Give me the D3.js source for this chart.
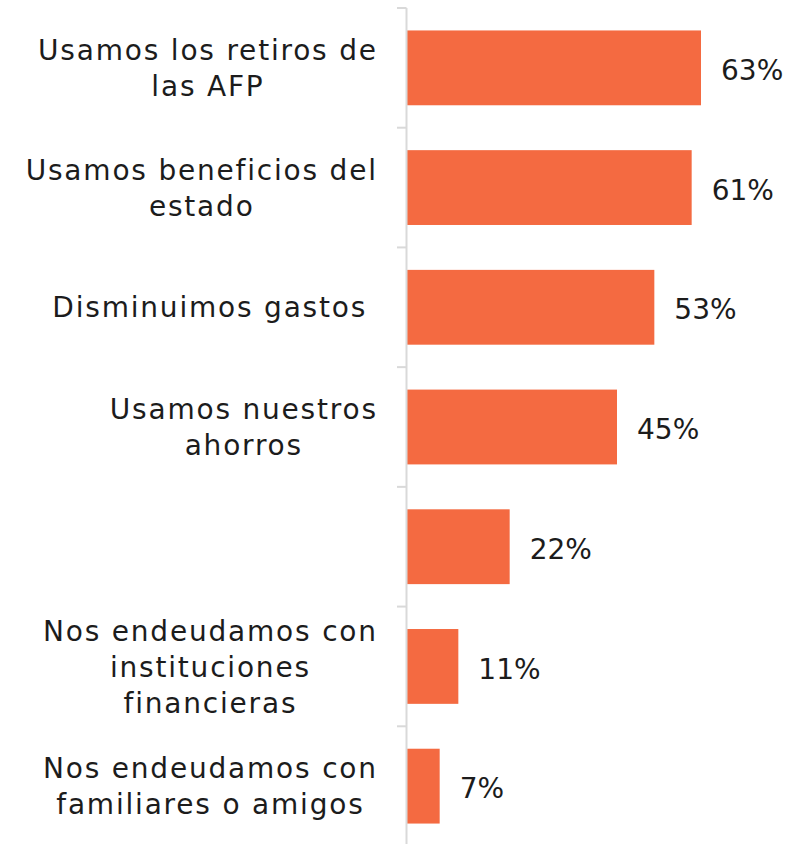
<!DOCTYPE html>
<html>
<head>
<meta charset="utf-8">
<script src="https://cdn.jsdelivr.net/npm/d3@7/dist/d3.min.js"></script>
<style>
  html, body { margin: 0; padding: 0; background: #ffffff; }
  svg { display: block; }
  text { font-family: "DejaVu Sans", "Open Sans", sans-serif; fill: #1c1c1c; }
  .cat-label { letter-spacing: 1.8px; }
</style>
</head>
<body>
<div id="chart"></div>
<script>
// Survey answers: how households covered their expenses
const categories = [
  "Usamos los retiros de las AFP",
  "Usamos beneficios del estado",
  "Disminuimos gastos",
  "Usamos nuestros ahorros",
  "",
  "Nos endeudamos con instituciones financieras",
  "Nos endeudamos con familiares o amigos"
];
// Wrapped lines used for each category label
const labelLines = [
  ["Usamos los retiros de", "las AFP"],
  ["Usamos beneficios del", "estado"],
  ["Disminuimos gastos "],
  ["Usamos nuestros", "ahorros"],
  [""],
  ["Nos endeudamos con", "instituciones", "financieras"],
  ["Nos endeudamos con", "familiares o amigos"]
];
const values = [63, 61, 53, 45, 22, 11, 7];

const width = 786, height = 844;
const axisX = 407;
const labelRight = 377.8;
const fontSize = 28;
const lineHeight = 36;

const svg = d3.select("#chart").append("svg")
  .attr("width", width)
  .attr("height", height);

const y = d3.scaleBand()
  .domain(categories.map((c, i) => i))
  .range([8, 846])
  .paddingInner(0.375)
  .paddingOuter(0.1875);

const x = d3.scaleLinear()
  .domain([0, 63])
  .range([axisX, 701]);

const step = y.step();
const bandStart = i => y(i) - y.paddingInner() * step / 2;

// Bars
svg.append("g").selectAll("rect")
  .data(values)
  .join("rect")
  .attr("x", x(0))
  .attr("y", (d, i) => y(i))
  .attr("width", d => x(d) - x(0))
  .attr("height", y.bandwidth())
  .attr("fill", "#f46a41");

// Category axis line and tick marks at band boundaries
const axisG = svg.append("g");
axisG.append("line")
  .attr("x1", axisX - 0.5).attr("x2", axisX - 0.5)
  .attr("y1", 8).attr("y2", height)
  .attr("stroke", "#d9d9d9").attr("stroke-width", 2);
axisG.selectAll("line.tick")
  .data(categories)
  .join("line")
  .attr("class", "tick")
  .attr("x1", 397).attr("x2", axisX - 0.5)
  .attr("y1", (d, i) => bandStart(i))
  .attr("y2", (d, i) => bandStart(i))
  .attr("stroke", "#d9d9d9").attr("stroke-width", 2);

// Category labels: lines centred within a block that is right-aligned to the axis
const labels = svg.append("g").selectAll("g")
  .data(labelLines)
  .join("g");

labels.each(function(lines, i) {
  const g = d3.select(this);
  const cy = y(i) + y.bandwidth() / 2;
  const t = g.append("text")
    .attr("class", "cat-label")
    .attr("font-size", fontSize)
    .attr("text-anchor", "middle")
    .style("white-space", "pre");
  const n = lines.length;
  lines.forEach((ln, k) => {
    t.append("tspan")
      .attr("x", 0)
      .attr("y", cy + (k - (n - 1) / 2) * lineHeight)
      .attr("dy", "0.36em")
      .text(ln);
  });
  let maxW = 0;
  t.selectAll("tspan").each(function() {
    maxW = Math.max(maxW, this.getComputedTextLength());
  });
  t.attr("transform", `translate(${labelRight - maxW / 2},0)`);
});

// Value labels
svg.append("g").selectAll("text")
  .data(values)
  .join("text")
  .attr("x", d => x(d) + 20)
  .attr("y", (d, i) => y(i) + y.bandwidth() / 2 + 2)
  .attr("dy", "0.36em")
  .attr("font-size", fontSize)
  .text(d => d + "%");
</script>
</body>
</html>
